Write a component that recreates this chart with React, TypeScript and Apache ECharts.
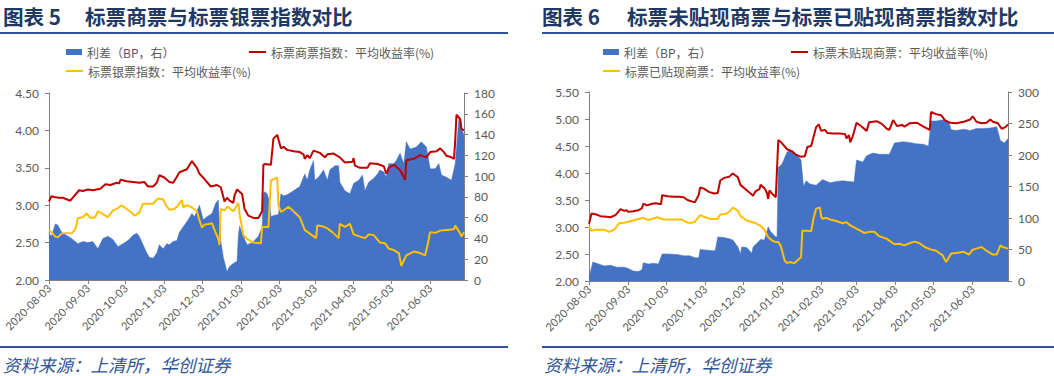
import React, { useEffect, useRef } from "react";
import * as echarts from "echarts";

// ---------- shared ----------
const monthTicks = [
  "2020-08-03", "2020-09-03", "2020-10-03", "2020-11-03", "2020-12-03",
  "2021-01-03", "2021-02-03", "2021-03-03", "2021-04-03", "2021-05-03", "2021-06-03",
];
const START = Date.UTC(2020, 7, 3);
const dayOf = (s: string) => {
  const [y, m, d] = s.split("-").map(Number);
  return Math.round((Date.UTC(y, m - 1, d) - START) / 86400000);
};
const dateOf = (day: number) => {
  const t = new Date(START + Math.round(day) * 86400000);
  const p = (n: number) => (n < 10 ? "0" + n : "" + n);
  return `${t.getUTCFullYear()}-${p(t.getUTCMonth() + 1)}-${p(t.getUTCDate())}`;
};
const tickDays = monthTicks.map(dayOf);

// ---------- chart 5 : [day since 2020-08-03, value] ----------
const leftEndDay = 331;
const leftSpreadBP: number[][] = [
  [0,45],[2,42],[5,54],[7,53],[10,46],[14,43],[18,40],[23,35],[27,37],[31,36],[35,37],[39,30],[43,40],[47,42],[51,39],[55,32],[59,35],[63,38],[67,43],[70,45],[72,42],[75,34],[78,26],[80,22],[83,21],[86,26],[88,34],[91,30],[94,35],[96,34],[99,37],[102,38],[104,46],[107,51],[111,58],[114,64],[116,61],[120,72],[123,58],[126,61],[130,64],[133,74],[135,77],[136,54],[137,38],[139,22],[142,8],[144,13],[147,16],[150,18],[151,42],[152,52],[155,42],[158,34],[160,35],[163,37],[167,42],[170,51],[171,83],[172,85],[174,83],[176,75],[177,61],[179,62],[183,63],[185,83],[187,81],[190,82],[195,86],[200,90],[204,102],[206,96],[208,106],[211,115],[212,96],[215,99],[219,106],[222,96],[224,106],[228,110],[231,110],[232,94],[236,86],[240,83],[243,93],[247,96],[250,101],[252,86],[255,94],[259,98],[262,102],[264,106],[267,104],[269,99],[271,112],[275,112],[277,115],[280,122],[283,112],[285,133],[288,126],[293,128],[297,133],[301,128],[304,107],[308,107],[311,112],[313,101],[317,99],[321,96],[324,112],[327,157],[329,147],[331,139],
];
const leftCommercialRate: number[][] = [
  [0,3.05],[2,3.12],[4,3.11],[8,3.10],[11,3.10],[14,3.08],[17,3.06],[19,3.10],[24,3.20],[27,3.19],[31,3.21],[35,3.20],[41,3.22],[45,3.28],[49,3.27],[54,3.30],[56,3.29],[57,3.34],[62,3.32],[67,3.31],[72,3.30],[76,3.31],[79,3.25],[83,3.25],[86,3.30],[88,3.40],[92,3.37],[96,3.31],[99,3.30],[102,3.38],[104,3.44],[110,3.48],[114,3.59],[118,3.50],[120,3.42],[124,3.35],[129,3.25],[134,3.27],[137,3.24],[140,3.05],[142,3.10],[144,3.06],[147,3.03],[148,3.13],[150,3.21],[154,3.15],[156,2.95],[159,2.86],[163,2.83],[167,2.83],[170,2.92],[171,3.54],[172,3.55],[177,3.54],[179,3.89],[182,3.94],[185,3.76],[187,3.78],[190,3.74],[195,3.72],[200,3.71],[203,3.68],[204,3.62],[206,3.67],[208,3.63],[211,3.73],[216,3.70],[220,3.64],[222,3.68],[227,3.69],[232,3.64],[236,3.57],[242,3.58],[243,3.63],[244,3.53],[248,3.50],[254,3.50],[256,3.56],[262,3.55],[267,3.52],[269,3.42],[271,3.50],[275,3.54],[280,3.47],[284,3.34],[285,3.60],[291,3.62],[296,3.67],[301,3.64],[304,3.71],[309,3.72],[312,3.76],[315,3.71],[317,3.66],[321,3.64],[323,3.62],[324,3.86],[325,4.21],[328,4.15],[329,4.02],[331,4.00],
];
const leftBankRate: number[][] = [
  [0,2.67],[2,2.64],[5,2.58],[7,2.57],[10,2.62],[14,2.63],[18,2.62],[21,2.68],[23,2.83],[27,2.84],[30,2.89],[33,2.83],[37,2.84],[39,2.92],[43,2.88],[47,2.84],[51,2.93],[54,2.95],[58,3.00],[62,2.95],[66,2.90],[68,2.86],[72,2.90],[75,3.02],[79,3.02],[83,3.02],[87,3.09],[91,3.08],[94,2.98],[96,2.94],[100,2.95],[103,3.00],[106,3.07],[107,2.97],[110,3.00],[114,2.97],[118,2.92],[120,2.80],[122,2.70],[124,2.74],[127,2.75],[130,2.76],[132,2.67],[135,2.55],[136,2.47],[137,2.95],[140,2.93],[142,2.98],[144,2.96],[147,2.92],[151,3.03],[152,2.88],[155,2.60],[158,2.55],[163,2.50],[169,2.49],[170,2.71],[175,2.71],[177,3.33],[182,3.37],[183,3.00],[185,2.91],[187,2.93],[191,2.98],[195,2.92],[200,2.84],[204,2.67],[208,2.62],[213,2.56],[214,2.73],[218,2.72],[222,2.69],[226,2.64],[231,2.56],[232,2.75],[236,2.71],[240,2.75],[243,2.61],[248,2.58],[252,2.56],[255,2.61],[259,2.60],[264,2.50],[268,2.49],[271,2.42],[275,2.40],[279,2.36],[281,2.19],[285,2.33],[291,2.38],[296,2.36],[300,2.33],[302,2.47],[304,2.64],[308,2.63],[312,2.66],[317,2.67],[323,2.68],[324,2.73],[328,2.62],[329,2.58],[331,2.64],
];

// ---------- chart 6 ----------
const rightEndDay = 332;
const rightSpreadBP: number[][] = [
  [0,6],[2,22],[3,30],[6,28],[12,24],[17,25],[22,22],[28,22],[31,20],[35,16],[39,15],[42,18],[43,29],[47,27],[51,28],[55,27],[58,43],[62,43],[70,42],[75,40],[80,40],[84,37],[87,37],[88,50],[94,49],[100,48],[102,70],[107,69],[111,67],[114,65],[118,54],[120,43],[121,54],[125,53],[129,44],[130,54],[133,60],[136,66],[139,65],[142,86],[144,78],[148,70],[149,70],[150,180],[153,186],[157,205],[161,207],[164,202],[168,192],[170,150],[172,159],[175,154],[180,152],[185,161],[191,156],[196,158],[201,159],[206,158],[210,157],[212,192],[217,189],[220,199],[225,203],[230,201],[238,201],[242,219],[249,221],[254,220],[259,218],[265,217],[269,214],[271,254],[275,254],[281,256],[285,252],[287,240],[291,239],[297,241],[302,239],[307,242],[312,242],[318,243],[323,245],[326,223],[329,219],[332,226],
];
const rightUndiscountedRate: number[][] = [
  [0,3.06],[2,3.25],[6,3.23],[9,3.20],[14,3.19],[17,3.18],[21,3.22],[25,3.33],[28,3.30],[30,3.31],[31,3.28],[35,3.29],[39,3.31],[42,3.35],[43,3.43],[46,3.40],[50,3.43],[53,3.44],[57,3.42],[58,3.59],[62,3.57],[67,3.56],[71,3.56],[75,3.55],[78,3.50],[82,3.47],[84,3.46],[87,3.60],[88,3.73],[91,3.71],[95,3.65],[99,3.62],[102,3.63],[104,3.86],[107,3.91],[111,3.93],[114,3.99],[118,3.92],[120,3.78],[123,3.72],[125,3.68],[129,3.60],[130,3.58],[132,3.66],[135,3.70],[136,3.78],[139,3.72],[141,3.63],[142,3.52],[143,3.68],[145,3.62],[148,3.55],[150,4.61],[153,4.55],[157,4.44],[161,4.40],[164,4.34],[168,4.30],[171,4.31],[173,4.48],[176,4.50],[180,4.85],[182,4.90],[184,4.78],[187,4.80],[189,4.74],[193,4.73],[199,4.73],[203,4.72],[204,4.64],[206,4.70],[207,4.57],[209,4.68],[212,4.93],[216,4.86],[220,4.78],[222,4.94],[228,4.96],[232,4.91],[236,4.82],[238,4.80],[241,4.98],[244,4.87],[248,4.89],[250,4.86],[254,4.92],[260,4.93],[265,4.86],[270,4.80],[271,5.13],[275,5.09],[279,5.07],[282,4.98],[286,4.93],[291,4.92],[297,4.95],[302,4.99],[304,5.05],[307,4.95],[311,4.92],[315,4.93],[318,4.99],[320,4.95],[324,4.92],[327,4.82],[330,4.85],[332,4.90],
];
const rightDiscountedRate: number[][] = [
  [0,3.01],[2,2.93],[5,2.95],[12,2.95],[16,2.91],[20,2.95],[24,3.07],[28,3.08],[35,3.12],[43,3.17],[47,3.13],[54,3.18],[59,3.14],[67,3.14],[73,3.14],[75,3.12],[78,3.08],[82,3.08],[84,3.10],[88,3.22],[92,3.18],[96,3.15],[102,3.15],[104,3.23],[108,3.24],[111,3.28],[114,3.36],[118,3.30],[120,3.20],[125,3.12],[131,3.08],[136,3.02],[139,2.95],[142,2.81],[145,2.75],[148,2.72],[150,2.72],[152,2.65],[155,2.38],[157,2.33],[159,2.35],[163,2.33],[165,2.38],[168,2.44],[169,2.93],[173,2.93],[176,2.92],[178,3.17],[180,3.34],[183,3.36],[184,3.19],[185,3.15],[188,3.17],[191,3.14],[196,3.11],[201,3.07],[204,3.09],[207,3.03],[212,2.97],[218,2.89],[222,2.91],[226,2.91],[230,2.83],[236,2.78],[242,2.68],[246,2.69],[250,2.66],[254,2.70],[258,2.73],[262,2.70],[266,2.63],[270,2.59],[275,2.56],[280,2.48],[283,2.35],[287,2.51],[291,2.52],[297,2.54],[301,2.49],[304,2.58],[307,2.60],[311,2.63],[315,2.56],[320,2.49],[323,2.49],[326,2.66],[328,2.63],[332,2.60],
];

// ---------- labels ----------
const SPREAD = "利差（BP，右）";
const L_RED = "标票商票指数：平均收益率(%)";
const L_YEL = "标票银票指数：平均收益率(%)";
const R_RED = "标票未贴现商票：平均收益率(%)";
const R_YEL = "标票已贴现商票：平均收益率(%)";
const leftTitleNo = "图表 5";
const leftTitle = "标票商票与标票银票指数对比";
const rightTitleNo = "图表 6";
const rightTitle = "标票未贴现商票与标票已贴现商票指数对比";
const source = "资料来源：上清所，华创证券";

const BLUE = "#4472C4";
const RED = "#C00000";
const YEL = "#FFC000";
const AXIS = "#808080";
const LABEL = "#595959";
const NAVY = "#1F3864";
const RULE = "#2F5597";
const NUMFONT = "Lato, 'Noto Sans', sans-serif";
const CJK = "'Noto Sans CJK SC', sans-serif";

const mkX = (gridIndex: number, max: number) => ({
  type: "value",
  gridIndex,
  min: 0,
  max,
  axisLine: { show: true, lineStyle: { color: AXIS, width: 1 } },
  axisTick: { show: true, length: 4, customValues: tickDays, lineStyle: { color: AXIS } },
  axisLabel: {
    customValues: tickDays,
    rotate: 45,
    fontSize: 11,
    color: LABEL,
    margin: 6,
    fontFamily: NUMFONT,
    formatter: (v: number) => dateOf(v),
  },
  splitLine: { show: false },
});
const mkY = (gridIndex: number, position: string, min: number, max: number, interval: number, dec: boolean) => ({
  type: "value",
  gridIndex,
  position,
  min,
  max,
  interval,
  axisLine: { show: true, lineStyle: { color: AXIS, width: 1 } },
  axisTick: { show: true, length: 4, lineStyle: { color: AXIS } },
  axisLabel: {
    fontSize: 12,
    color: LABEL,
    margin: 10,
    fontFamily: NUMFONT,
    formatter: (v: number) => (dec ? v.toFixed(2) : String(v)),
  },
  splitLine: { show: false },
});

const legendItem = (name: string, left: number, top: number, isArea: boolean) => ({
  data: [{ name, icon: "rect" }],
  left,
  top,
  padding: 0,
  itemWidth: isArea ? 16 : 17,
  itemHeight: isArea ? 6 : 2,
  selectedMode: false,
  textStyle: { fontSize: 12, color: LABEL, fontFamily: CJK },
});

const area = (name: string, x: number, y: number, data: number[][]) => ({
  name,
  type: "line",
  xAxisIndex: x,
  yAxisIndex: y,
  data,
  symbol: "none",
  lineStyle: { width: 0.5, color: BLUE },
  itemStyle: { color: BLUE },
  areaStyle: { color: BLUE, opacity: 1 },
  z: 1,
});
const line = (name: string, x: number, y: number, data: number[][], color: string, z: number) => ({
  name,
  type: "line",
  xAxisIndex: x,
  yAxisIndex: y,
  data,
  symbol: "none",
  lineStyle: { width: 2, color },
  itemStyle: { color },
  z,
});

const text = (t: string, x: number, y: number, font: string, fill: string) => ({
  type: "text",
  x,
  y,
  silent: true,
  style: { text: t, font, fill, align: "left", verticalAlign: "middle" },
});
const rule = (x1: number, x2: number, y: number) => ({
  type: "line",
  silent: true,
  shape: { x1, y1: y, x2, y2: y },
  style: { stroke: RULE, lineWidth: 2 },
});

export default function App() {
  const ref = useRef<HTMLDivElement>(null);
  useEffect(() => {
    if (!ref.current) return;
    const chart = echarts.init(ref.current, undefined, { renderer: "svg" });
    const titleFont = `bold 20.6px ${CJK}`;
    const srcFont = `italic 17.5px ${CJK}`;
    chart.setOption({
      animation: false,
      backgroundColor: "#ffffff",
      grid: [
        { left: 49, top: 93, width: 415, height: 187 },
        { left: 589, top: 92, width: 419, height: 189 },
      ],
      xAxis: [mkX(0, leftEndDay), mkX(1, rightEndDay)],
      yAxis: [
        mkY(0, "left", 2, 4.5, 0.5, true),
        mkY(0, "right", 0, 180, 20, false),
        mkY(1, "left", 2, 5.5, 0.5, true),
        mkY(1, "right", 0, 300, 50, false),
      ],
      legend: [
        legendItem(SPREAD, 66, 46, true),
        legendItem(L_RED, 249, 46, false),
        legendItem(L_YEL, 66, 65, false),
        legendItem(SPREAD, 603, 46, true),
        legendItem(R_RED, 791, 46, false),
        legendItem(R_YEL, 603, 65, false),
      ],
      series: [
        area(SPREAD, 0, 1, leftSpreadBP),
        line(L_YEL, 0, 0, leftBankRate, YEL, 2),
        line(L_RED, 0, 0, leftCommercialRate, RED, 3),
        area(SPREAD, 1, 3, rightSpreadBP),
        line(R_YEL, 1, 2, rightDiscountedRate, YEL, 2),
        line(R_RED, 1, 2, rightUndiscountedRate, RED, 3),
      ],
      graphic: [
        text(leftTitleNo, 3, 16, titleFont, NAVY),
        text(leftTitle, 85, 16, titleFont, NAVY),
        rule(0, 508, 33),
        rule(0, 508, 347),
        text(source, 3, 364, srcFont, RULE),
        text(rightTitleNo, 542, 16, titleFont, NAVY),
        text(rightTitle, 627, 16, titleFont, NAVY),
        rule(542, 1054, 33),
        rule(542, 1054, 347),
        text(source, 544, 364, srcFont, RULE),
      ],
    });
    return () => chart.dispose();
  }, []);
  return (
    <div
      ref={ref}
      style={{ position: "absolute", left: 0, top: 0, width: 1054, height: 376, background: "#fff" }}
    />
  );
}
